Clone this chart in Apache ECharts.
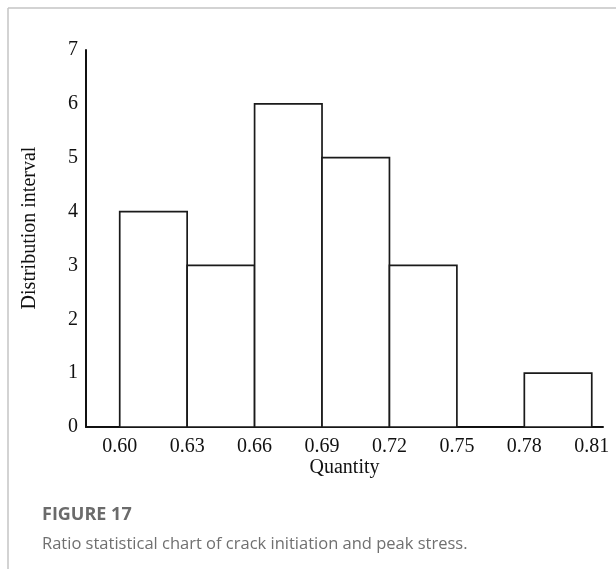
<!DOCTYPE html>
<html>
<head>
<meta charset="utf-8">
<script src="https://cdn.jsdelivr.net/npm/echarts@6/dist/echarts.min.js"></script>
<style>
html,body{margin:0;padding:0;background:#fff;}
#chart{width:616px;height:569px;}
</style>
</head>
<body>
<div id="chart"></div>
<script>
// Histogram bins (ratio of crack initiation to peak stress)
const binEdges = [0.60, 0.63, 0.66, 0.69, 0.72, 0.75, 0.78, 0.81];
const counts = [4, 3, 6, 5, 3, 0, 1];
const xTickLabels = ['0.60', '0.63', '0.66', '0.69', '0.72', '0.75', '0.78', '0.81'];
const yTicks = [0, 1, 2, 3, 4, 5, 6, 7];
const xAxisName = 'Quantity';
const yAxisName = 'Distribution interval';
const figureLabel = 'FIGURE 17';
const figureCaption = 'Ratio statistical chart of crack initiation and peak stress.';

const barData = counts.map((c, i) => [binEdges[i], binEdges[i + 1], c]);

const serif = '"Liberation Serif", "Times New Roman", serif';
const chart = echarts.init(document.getElementById('chart'), null, {renderer: 'canvas'});

chart.setOption({
  backgroundColor: '#ffffff',
  animation: false,
  grid: {left: 86, right: 13, top: 50, bottom: 142, containLabel: false},
  xAxis: {
    type: 'value',
    min: 0.585,
    max: 0.815,
    name: xAxisName,
    nameLocation: 'middle',
    nameGap: 31,
    nameMoveOverlap: false,
    nameTextStyle: {fontFamily: serif, fontSize: 20, color: '#111'},
    axisLine: {show: true, onZero: false, lineStyle: {color: '#111', width: 2}},
    axisTick: {show: false},
    splitLine: {show: false},
    axisLabel: {
      customValues: binEdges,
      formatter: function (v) {
        const i = binEdges.findIndex(b => Math.abs(b - v) < 1e-6);
        return i >= 0 ? xTickLabels[i] : '';
      },
      margin: 10,
      fontFamily: serif, fontSize: 20, color: '#111'
    }
  },
  yAxis: {
    type: 'value',
    min: yTicks[0],
    max: yTicks[yTicks.length - 1],
    interval: 1,
    axisLine: {show: true, lineStyle: {color: '#111', width: 2}},
    axisTick: {show: false},
    splitLine: {show: false},
    axisLabel: {margin: 8, fontFamily: serif, fontSize: 20, color: '#111'}
  },
  series: [{
    type: 'custom',
    data: barData,
    encode: {x: [0, 1], y: 2},
    renderItem: function (params, api) {
      const v = api.value(2);
      if (!v) return null;
      const p0 = api.coord([api.value(0), v]);
      const p1 = api.coord([api.value(1), 0]);
      return {
        type: 'rect',
        shape: {x: p0[0], y: p0[1], width: p1[0] - p0[0], height: p1[1] - p0[1]},
        style: {fill: '#ffffff', stroke: '#1a1a1a', lineWidth: 1.7}
      };
    },
    z: 1
  }],
  graphic: [
    {type: 'line', shape: {x1: 8, y1: 8, x2: 616, y2: 8}, style: {stroke: '#c4c4c4', lineWidth: 1.5}, silent: true},
    {type: 'line', shape: {x1: 8, y1: 8, x2: 8, y2: 569}, style: {stroke: '#c4c4c4', lineWidth: 1.5}, silent: true},
    {type: 'text', x: 30, y: 228, rotation: Math.PI / 2,
     style: {text: yAxisName, font: '20px ' + serif, fill: '#111', align: 'center', verticalAlign: 'middle'}},
    {type: 'text', left: 42, top: 506, style: {text: figureLabel, font: 'bold 18px "Open Sans", sans-serif', fill: '#6b6b6b'}},
    {type: 'text', left: 42, top: 536, style: {text: figureCaption, font: '16.5px "Open Sans", sans-serif', fill: '#707070'}}
  ]
});
</script>
</body>
</html>
